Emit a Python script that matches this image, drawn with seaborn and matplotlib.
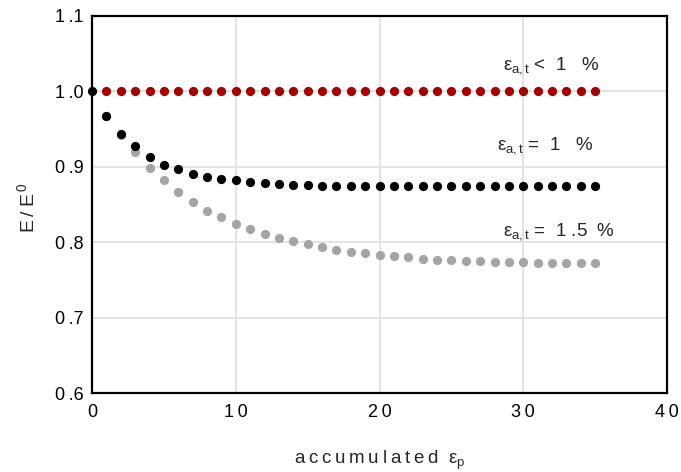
import numpy as np
import pandas as pd
import matplotlib
matplotlib.use("Agg")
import matplotlib.pyplot as plt
import seaborn as sns

# ---- data ----
x_red = list(range(1, 36))
y_red = [1.0] * 35

x_black = list(range(0, 36))
y_black = [1.000, 0.967, 0.944, 0.927, 0.913, 0.903, 0.897, 0.890, 0.887, 0.884,
           0.882, 0.880, 0.878, 0.877, 0.876, 0.8755, 0.875, 0.875, 0.875, 0.875,
           0.875, 0.875, 0.875, 0.875, 0.875, 0.875, 0.875, 0.875, 0.875, 0.875,
           0.875, 0.875, 0.875, 0.875, 0.875, 0.875]

x_gray = list(range(1, 36))
y_gray = [0.967, 0.942, 0.919, 0.899, 0.882, 0.866, 0.853, 0.842, 0.833, 0.824,
          0.817, 0.811, 0.806, 0.801, 0.797, 0.793, 0.790, 0.787, 0.786, 0.783,
          0.782, 0.780, 0.778, 0.777, 0.776, 0.775, 0.775, 0.774, 0.774, 0.774,
          0.773, 0.773, 0.773, 0.773, 0.773]

x_ticks = [0, 10, 20, 30, 40]
x_ticklabels = ["0", "1\u20090", "2\u20090", "3\u20090", "4\u20090"]
y_ticks = [0.6, 0.7, 0.8, 0.9, 1.0, 1.1]
y_ticklabels = ["0\u2009.6", "0\u2009.7", "0\u2009.8", "0\u2009.9", "1\u2009.0", "1\u2009.1"]

series_names = ["eps15", "eps1lt", "eps1"]
colors = {"eps15": "#A3A3A8", "eps1lt": "#A50000", "eps1": "#000000"}

df = pd.concat([
    pd.DataFrame({"x": x_gray, "y": y_gray, "s": "eps15"}),
    pd.DataFrame({"x": x_red, "y": y_red, "s": "eps1lt"}),
    pd.DataFrame({"x": x_black, "y": y_black, "s": "eps1"}),
], ignore_index=True)

sns.set_style("white")
plt.rcParams["font.family"] = ["Liberation Sans", "DejaVu Sans"]
plt.rcParams["mathtext.fontset"] = "custom"
plt.rcParams["mathtext.rm"] = "Liberation Sans"
plt.rcParams["mathtext.it"] = "Liberation Sans"

fig = plt.figure(figsize=(6.81, 4.72), dpi=100)
ax = fig.add_axes([92 / 681, 1 - 393 / 472, (667 - 92) / 681, (393 - 16) / 472])

for name in series_names:
    sub = df[df["s"] == name]
    sns.scatterplot(data=sub, x="x", y="y", color=colors[name], s=44,
                    linewidth=0, ax=ax, legend=False, zorder=3, clip_on=False)

ax.set_xlim(0, 40)
ax.set_ylim(0.6, 1.1)
ax.set_xticks(x_ticks)
ax.set_xticklabels(x_ticklabels)
ax.set_yticks(y_ticks)
ax.set_yticklabels(y_ticklabels)
ax.grid(True, color="#E3E3E3", linewidth=1.4, zorder=0)
ax.set_axisbelow(True)
for sp in ax.spines.values():
    sp.set_color("black")
    sp.set_linewidth(1.6)
ax.tick_params(direction="in", length=7, width=1.6, labelsize=13, pad=6,
               colors="black")
ax.tick_params(axis="x", pad=8)

ax.set_xlabel("a\u2009c\u2009c\u2009u\u2009m\u2009u\u2009l\u2009a\u2009t\u2009e\u2009d  $\\varepsilon_{p}$",
              fontsize=13.5, labelpad=20)
ax.set_ylabel("E\u2009/\u2009E$^{\\,0}$", fontsize=14, labelpad=14)
ax.yaxis.set_label_coords(-0.094, 0.49)

ax.text(28.6, 1.034, "$\\varepsilon_{a,t}$ <  1   %", fontsize=13.5, va="center", ha="left")
ax.text(28.2, 0.928, "$\\varepsilon_{a,t}$ =  1   %", fontsize=13.5, va="center", ha="left")
ax.text(28.6, 0.8135, "$\\varepsilon_{a,t}$ =  1 .5  %", fontsize=13.5, va="center", ha="left")

fig.savefig("out.png", dpi=100)
